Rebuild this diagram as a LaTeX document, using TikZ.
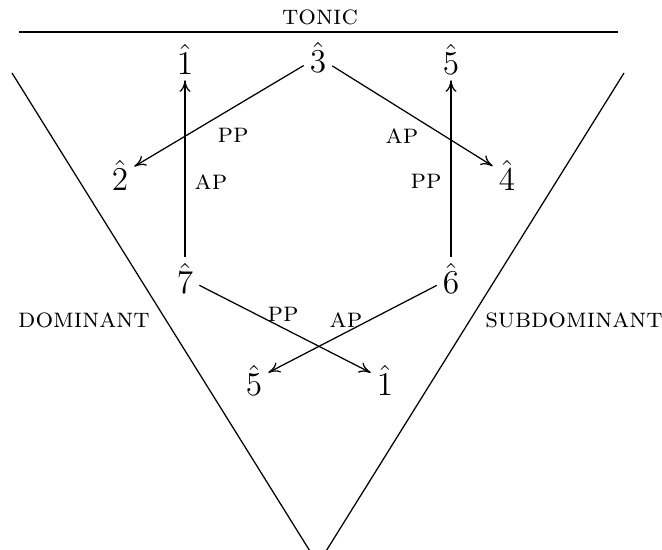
\documentclass[tikz,border=0pt]{standalone}
\usetikzlibrary{arrows.meta}
\begin{document}
\begin{tikzpicture}[x=0.36pt,y=-0.36pt,
  deg/.style={font=\large, inner sep=2pt},
  lab/.style={font=\normalsize\scshape, inner sep=0pt},
  arr/.style={-{To[length=4.2pt,width=4pt]}, line width=0.45pt}]
\useasboundingbox (0,0) rectangle (662,550);
\clip (0,0) rectangle (662,550);
% tonic bar
\node[lab] (tonic) at (320,17) {tonic};
\coordinate (tl) at (19,32);
\coordinate (tr) at (618,32);
\draw[line width=0.45pt] (tl) -- (tr);
% V
\coordinate (vl) at (12,73);
\coordinate (vr) at (624,73);
\coordinate (vb) at (318,564);
\draw[line width=0.45pt] (vl) -- (vb) -- (vr);
\node[lab] (dom) at (84,320) {dominant};
\node[lab] (sub) at (574,320) {subdominant};
% degrees
\node[deg] (t1) at (185,59) {$\hat{1}$};
\node[deg] (t3) at (318,57) {$\hat{3}$};
\node[deg] (t5) at (451,59) {$\hat{5}$};
\node[deg] (m2) at (120,175) {$\hat{2}$};
\node[deg] (m4) at (507,175) {$\hat{4}$};
\node[deg] (m7) at (185,278) {$\hat{7}$};
\node[deg] (m6) at (451,278) {$\hat{6}$};
\node[deg] (b5) at (254,380) {$\hat{5}$};
\node[deg] (b1) at (385,380) {$\hat{1}$};
% arrows
\draw[arr] (m7) -- (t1);
\draw[arr] (t3) -- (m2);
\draw[arr] (t3) -- (m4);
\draw[arr] (m6) -- (t5);
\draw[arr] (m7) -- (b1);
\draw[arr] (m6) -- (b5);
% labels
\node[lab] (l1) at (211,182) {ap};
\node[lab] (l2) at (233,135) {pp};
\node[lab] (l3) at (402,136) {ap};
\node[lab] (l4) at (426,181) {pp};
\node[lab] (l5) at (283,314) {pp};
\node[lab] (l6) at (346,320) {ap};
\end{tikzpicture}
\end{document}
